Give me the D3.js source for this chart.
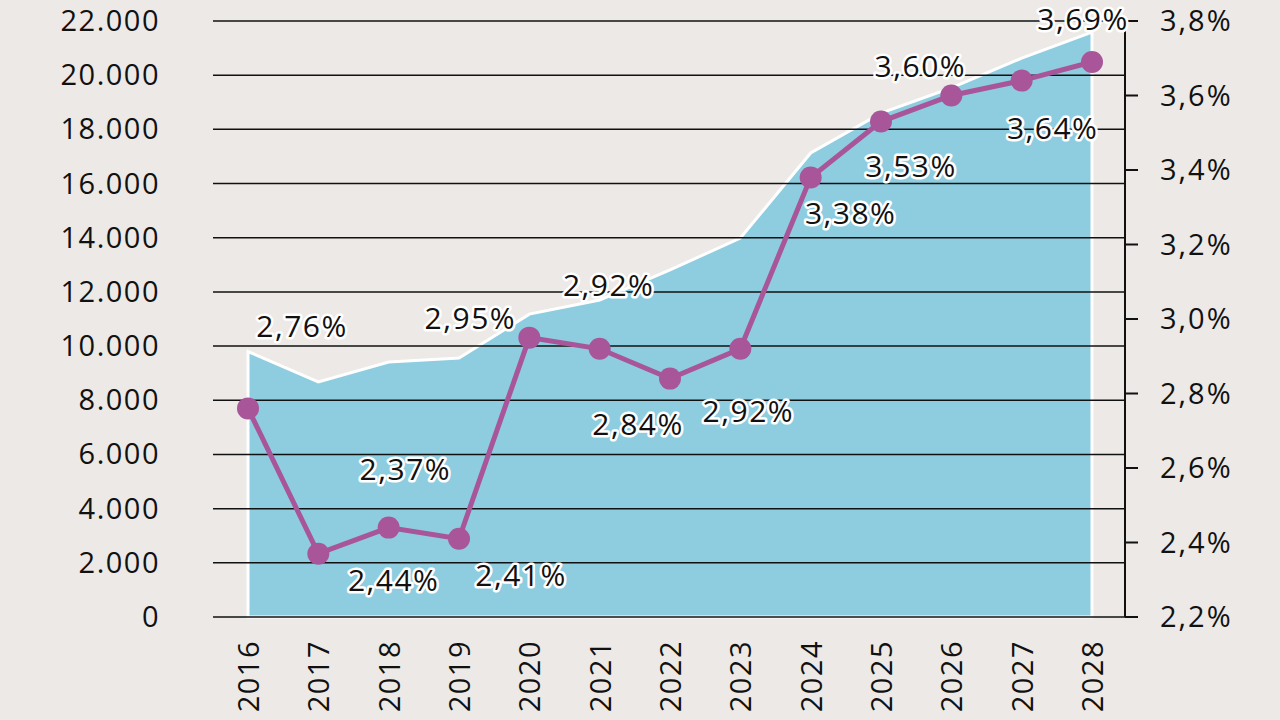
<!DOCTYPE html>
<html><head><meta charset="utf-8">
<script src="https://cdn.jsdelivr.net/npm/d3@7"></script>
<style>body{margin:0;background:#ece9e6}svg{display:block}text{font-family:"Open Sans","Noto Sans",sans-serif}</style>
</head><body><svg id="c" width="1280" height="720"></svg>
<script>
const years=["2016","2017","2018","2019","2020","2021","2022","2023","2024","2025","2026","2027","2028"];
const areaValues=[9800,8680,9410,9560,11180,11700,12810,13990,17130,18600,19530,20630,21590];
const rateValues=[2.76,2.37,2.44,2.41,2.95,2.92,2.84,2.92,3.38,3.53,3.60,3.64,3.69];
const leftTicks=[0,2000,4000,6000,8000,10000,12000,14000,16000,18000,20000,22000];
const rightTicks=[2.2,2.4,2.6,2.8,3.0,3.2,3.4,3.6,3.8];
const labelOffsets=[[54,-82],[87,-85],[5,52],[62,36],[-59,-20],[9,-64],[-32,45],[8,62],[40,36],[30,44],[-31,-30],[31,47],[-9,-43]];

const svg=d3.select("#c");
const x=d3.scalePoint().domain(years).range([248,1092]);
const yL=d3.scaleLinear().domain([0,22000]).range([617,21]);
const yR=d3.scaleLinear().domain([2.2,3.8]).range([617,21]);
const de=v=>d3.format(",")(v).replace(/,/g,".");
const pct=(v,d)=>v.toFixed(d).replace(".",",")+"%";

svg.append("path").datum(areaValues)
 .attr("d",d3.area().x((d,i)=>x(years[i])).y0(yL(0)).y1(d=>yL(d)))
 .attr("fill","#8ecde0").attr("stroke","#fff").attr("stroke-width",3);

svg.append("g").selectAll("line").data(leftTicks).join("line")
 .attr("x1",213).attr("x2",1125).attr("y1",d=>yL(d)).attr("y2",d=>yL(d))
 .attr("stroke","#111").attr("stroke-width",1.5);
svg.append("g").selectAll("text").data(leftTicks).join("text")
 .attr("x",160).attr("y",d=>yL(d)+10).attr("text-anchor","end")
 .attr("font-size",29).attr("letter-spacing",1.5).attr("fill","#111").text(d=>de(d));

svg.append("line").attr("x1",1125).attr("x2",1125).attr("y1",yR(3.8)).attr("y2",yR(2.2)).attr("stroke","#111").attr("stroke-width",2);
svg.append("g").selectAll("line").data(rightTicks).join("line")
 .attr("x1",1125).attr("x2",1138).attr("y1",d=>yR(d)).attr("y2",d=>yR(d)).attr("stroke","#111").attr("stroke-width",2);
svg.append("g").selectAll("text").data(rightTicks).join("text")
 .attr("x",1160).attr("y",d=>yR(d)+10).attr("font-size",29).attr("letter-spacing",2).attr("fill","#111").text(d=>pct(d,1));

svg.append("g").selectAll("text").data(years).join("text")
 .attr("transform",d=>`translate(${x(d)+11},640) rotate(-90)`).attr("text-anchor","end")
 .attr("font-size",29).attr("letter-spacing",1.5).attr("fill","#111").text(d=>d);

svg.append("path").datum(rateValues)
 .attr("d",d3.line().x((d,i)=>x(years[i])).y(d=>yR(d)))
 .attr("fill","none").attr("stroke","#a9559a").attr("stroke-width",5);
svg.append("g").selectAll("circle").data(rateValues).join("circle")
 .attr("cx",(d,i)=>x(years[i])).attr("cy",d=>yR(d)).attr("r",11).attr("fill","#a9559a");

svg.append("g").selectAll("text").data(rateValues).join("text")
 .attr("x",(d,i)=>x(years[i])+labelOffsets[i][0]).attr("y",(d,i)=>yR(d)+labelOffsets[i][1]+11)
 .attr("text-anchor","middle").attr("font-size",30).attr("letter-spacing",1.5).attr("fill","#111")
 .attr("stroke","#fff").attr("stroke-width",5).attr("paint-order","stroke").attr("stroke-linejoin","round")
 .text(d=>pct(d,2));
</script></body></html>
